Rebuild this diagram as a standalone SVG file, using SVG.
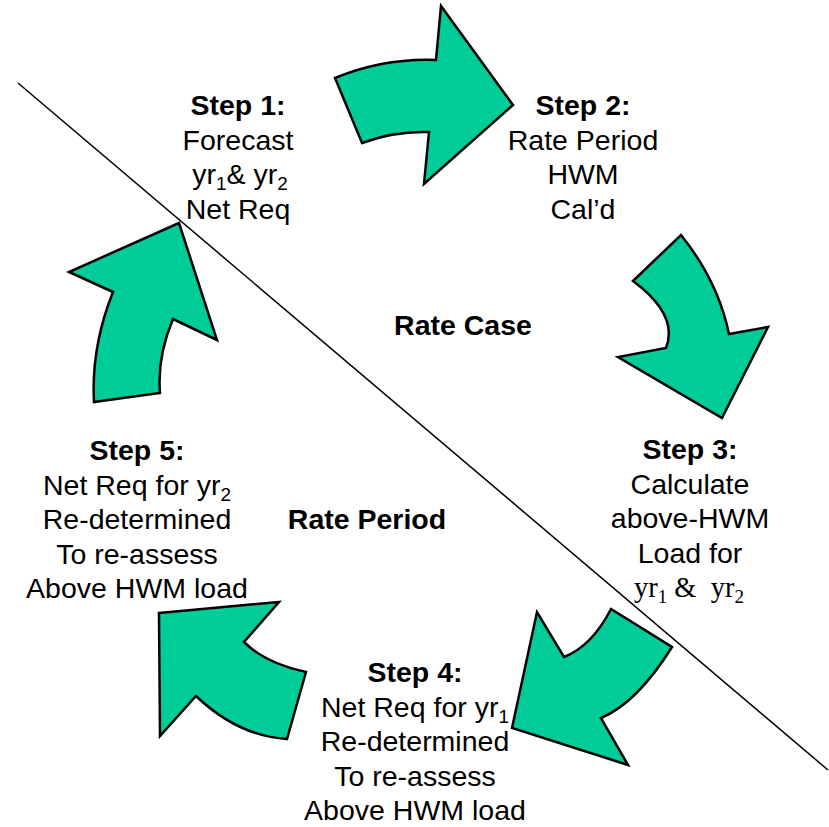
<svg xmlns="http://www.w3.org/2000/svg" width="829" height="827" viewBox="0 0 829 827">
<style>
.arrow{fill:#00CC99;stroke:#000;stroke-width:2.5;stroke-linejoin:miter}
.t{font-family:"Liberation Sans",Arial,sans-serif;font-size:28.5px;fill:#000;text-anchor:middle}
.b{font-weight:bold}
.sub{font-size:19px}
.serif{font-family:"Liberation Serif","Times New Roman",serif;font-size:28.5px}
.divider{stroke:#000;stroke-width:1.5;fill:none}
</style>
<rect width="829" height="827" fill="#fff"/>
<g id="connectors">
  <path id="arrow1" class="arrow" d="M335,78 Q384,58 436,60 L441,6 L513,105 L424,184 L429,132 Q394,131 362,143 Z"/>
  <path id="arrow2" class="arrow" d="M681,235 Q718,281 729,334 L768,327 L722,418 L618,357 L666,348 Q679,315 633,281 Z"/>
  <path id="arrow3" class="arrow" d="M512,728 L537,612 L564,657 Q592,646 611,609 L672,647 Q637,703 601,718 L628,765 Z"/>
  <path id="arrow4" class="arrow" d="M159,613 L279,602 L244,642 Q265,663 306,672 L287,739 Q238,736 196,696 L160,736 Z"/>
  <path id="arrow5" class="arrow" d="M179,223 L69,272 L113,292 Q91,347 94,402 L160,393 Q157,357 173,319 L217,340 Z"/>
  <line id="divider" class="divider" x1="18" y1="83" x2="828" y2="770"/>
</g>
<g id="step1">
  <text class="t b" x="238" y="115">Step 1:</text>
  <text class="t" x="238" y="149.5">Forecast</text>
  <text class="t" x="240" y="184">yr<tspan class="sub" dy="6">1</tspan><tspan dy="-6">&amp; yr</tspan><tspan class="sub" dy="6">2</tspan></text>
  <text class="t" x="238" y="218.5">Net Req</text>
</g>
<g id="step2">
  <text class="t b" x="583" y="115">Step 2:</text>
  <text class="t" x="583" y="149.5">Rate Period</text>
  <text class="t" x="583" y="184">HWM</text>
  <text class="t" x="583" y="218.5">Cal’d</text>
</g>
<g id="step3">
  <text class="t b" x="690" y="459">Step 3:</text>
  <text class="t" x="690" y="493.5">Calculate</text>
  <text class="t" x="690" y="528">above-HWM</text>
  <text class="t" x="690" y="562.5">Load for</text>
  <text class="t serif" x="689" y="597">yr<tspan class="sub" dy="6">1</tspan><tspan dy="-6">&#160;&amp;&#160;&#160;yr</tspan><tspan class="sub" dy="6">2</tspan></text>
</g>
<g id="step4">
  <text class="t b" x="415" y="682">Step 4:</text>
  <text class="t" x="415" y="716.5">Net Req for yr<tspan class="sub" dy="6">1</tspan></text>
  <text class="t" x="415" y="751">Re-determined</text>
  <text class="t" x="415" y="785.5">To re-assess</text>
  <text class="t" x="415" y="820">Above HWM load</text>
</g>
<g id="step5">
  <text class="t b" x="137" y="460">Step 5:</text>
  <text class="t" x="137" y="494.5">Net Req for yr<tspan class="sub" dy="6">2</tspan></text>
  <text class="t" x="137" y="529">Re-determined</text>
  <text class="t" x="137" y="563.5">To re-assess</text>
  <text class="t" x="137" y="598">Above HWM load</text>
</g>
<g id="rate-case">
  <text class="t b" x="463" y="335">Rate Case</text>
</g>
<g id="rate-period">
  <text class="t b" x="367" y="529">Rate Period</text>
</g>
</svg>
